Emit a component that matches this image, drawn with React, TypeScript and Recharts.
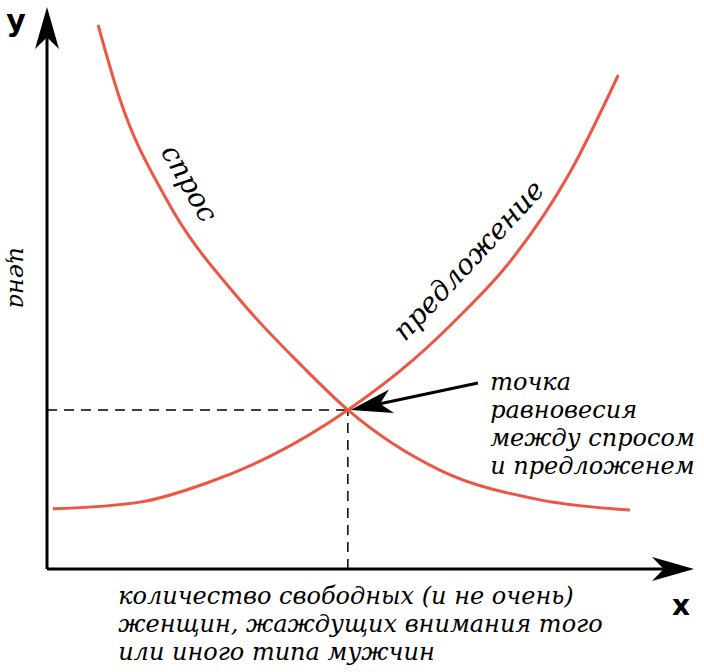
import {
  ComposedChart,
  Line,
  ReferenceDot,
  ReferenceLine,
  XAxis,
  YAxis,
} from "recharts";

// quantity (0-100) / price (0-100)
const demandQty = [7.9, 11.3, 18.5, 29.8, 39.6, 46.5, 60.7, 76.2, 90.1];
const demandPrice = [96.8, 83.5, 65.7, 47.9, 35.9, 28.3, 17.6, 12.3, 10.5];
const supplyQty = [0.9, 14.4, 24.7, 34.9, 46.5, 56.6, 64.3, 70.5, 80.8, 88.3];
const supplyPrice = [10.7, 11.9, 15.3, 20.3, 28.3, 37.2, 45.6, 53.2, 70.5, 87.9];
const equilibrium = { q: 46.5, p: 28.3 };

const demandLabel = "спрос";
const supplyLabel = "предложение";
const priceLabel = "цена";
const noteLines = ["точка", "равновесия", "между спросом", "и предложенем"];
const qtyLines = [
  "количество свободных (и не очень)",
  "женщин, жаждущих внимания того",
  "или иного типа мужчин",
];

const demand = demandQty.map((q, i) => ({ q, p: demandPrice[i] }));
const supply = supplyQty.map((q, i) => ({ q, p: supplyPrice[i] }));

const RED = "#ee5542";
const HAND = "'DejaVu Serif', serif";

const Arrow = (props: any) => {
  const { x1, y1, x2, y2 } = props;
  const dx = x2 - x1;
  const dy = y2 - y1;
  const len = Math.sqrt(dx * dx + dy * dy) || 1;
  const ux = dx / len;
  const uy = dy / len;
  const L = 42;
  const W = 12;
  const bx = x2 - ux * L;
  const by = y2 - uy * L;
  const nx = x2 - ux * L * 0.72;
  const ny = y2 - uy * L * 0.72;
  return (
    <g>
      <line x1={x1} y1={y1} x2={nx} y2={ny} stroke="#000" strokeWidth={3} />
      <polygon
        points={`${x2},${y2} ${bx - uy * W},${by + ux * W} ${nx},${ny} ${bx + uy * W},${by - ux * W}`}
        fill="#000"
      />
    </g>
  );
};

const textAt =
  (lines: string[], opts: { size: number; rotate?: number; anchor?: string; weight?: string; italic?: boolean; family?: string; lh?: number }) =>
  (p: any) => {
    const { cx, cy } = p;
    return (
      <text
        x={cx}
        y={cy}
        fontSize={opts.size}
        fontFamily={opts.family ?? HAND}
        fontStyle={opts.italic === false ? "normal" : "italic"}
        fontWeight={opts.weight ?? "normal"}
        textAnchor={opts.anchor ?? "start"}
        dominantBaseline={opts.rotate !== undefined ? "central" : "alphabetic"}
        transform={opts.rotate !== undefined ? `rotate(${opts.rotate} ${cx} ${cy})` : undefined}
        fill="#000"
      >
        {lines.map((l, i) => (
          <tspan key={i} x={cx} dy={i === 0 ? 0 : opts.lh ?? 28}>
            {l}
          </tspan>
        ))}
      </text>
    );
  };

export default function App() {
  return (
    <div style={{ position: "absolute", left: 0, top: 0, background: "#fff" }}>
      <ComposedChart
        width={704}
        height={672}
        margin={{ top: 7, right: 10, bottom: 103, left: 47 }}
      >
        <XAxis type="number" dataKey="q" domain={[0, 100]} hide />
        <YAxis type="number" dataKey="p" domain={[0, 100]} hide />

        <ReferenceLine
          segment={[{ x: 0, y: equilibrium.p }, { x: equilibrium.q, y: equilibrium.p }]}
          stroke="#000"
          strokeWidth={1.5}
          strokeDasharray="10 7"
        />
        <ReferenceLine
          segment={[{ x: equilibrium.q, y: 0 }, { x: equilibrium.q, y: equilibrium.p }]}
          stroke="#000"
          strokeWidth={1.5}
          strokeDasharray="10 7"
        />

        <Line data={demand} dataKey="p" type="monotone" stroke={RED} strokeWidth={3} dot={false} isAnimationActive={false} />
        <Line data={supply} dataKey="p" type="monotone" stroke={RED} strokeWidth={3} dot={false} isAnimationActive={false} />

        <ReferenceLine segment={[{ x: 0, y: 0 }, { x: 100, y: 0 }]} shape={Arrow} ifOverflow="visible" />
        <ReferenceLine segment={[{ x: 0, y: 0 }, { x: 0, y: 100 }]} shape={Arrow} ifOverflow="visible" />
        <ReferenceLine
          segment={[{ x: 66.6, y: 33.1 }, { x: 46.9, y: 28.3 }]}
          shape={Arrow}
          ifOverflow="visible"
        />

        <ReferenceDot x={22.1} y={68.7} r={0} ifOverflow="visible" shape={textAt([demandLabel], { size: 28, rotate: 60, anchor: "middle" })} />
        <ReferenceDot x={65.1} y={55.0} r={0} ifOverflow="visible" shape={textAt([supplyLabel], { size: 28, rotate: -47, anchor: "middle" })} />
        <ReferenceDot x={-4.5} y={51.8} r={0} ifOverflow="visible" shape={textAt([priceLabel], { size: 24, rotate: 90, anchor: "middle" })} />
        <ReferenceDot x={68.5} y={31.9} r={0} ifOverflow="visible" shape={textAt(noteLines, { size: 24, lh: 28 })} />
        <ReferenceDot x={11.0} y={-6.2} r={0} ifOverflow="visible" shape={textAt(qtyLines, { size: 24, lh: 28 })} />
        <ReferenceDot x={98.0} y={-6.4} r={0} ifOverflow="visible" shape={textAt(["x"], { size: 28, rotate: 0, anchor: "middle", weight: "bold", italic: false, family: "'DejaVu Sans', sans-serif" })} />
        <ReferenceDot x={-4.8} y={97.6} r={0} ifOverflow="visible" shape={textAt(["y"], { size: 30, rotate: 0, anchor: "middle", weight: "bold", italic: false, family: "'DejaVu Sans', sans-serif" })} />
      </ComposedChart>
    </div>
  );
}
